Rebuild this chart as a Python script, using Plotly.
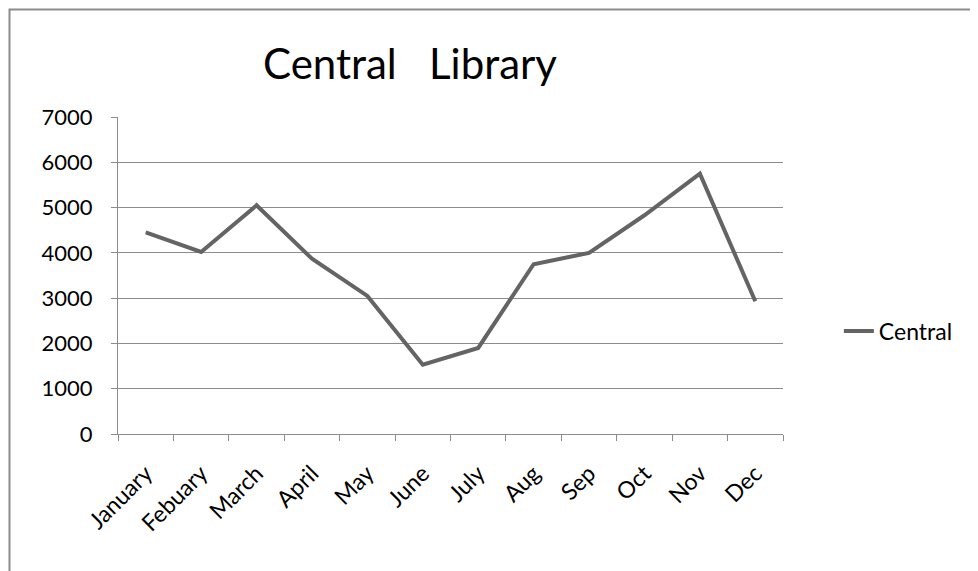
import plotly.graph_objects as go

months = ["January", "Febuary", "March", "April", "May", "June", "July",
          "Aug", "Sep", "Oct", "Nov", "Dec"]
central = [4450, 4020, 5050, 3870, 3050, 1530, 1900, 3750, 4000, 4830, 5750, 2930]
y_ticks = [0, 1000, 2000, 3000, 4000, 5000, 6000, 7000]

FONT = "Lato"
# the page body has an 8px margin, so the figure is made 8px smaller and shifted
W, H = 970, 563
L, T = 110, 109
PW, PH = 665, 317

fig = go.Figure()
fig.add_trace(go.Scatter(
    x=months, y=central, mode="lines", name="Central",
    line=dict(color="#646464", width=4),
))

fig.update_layout(
    width=W, height=H,
    margin=dict(l=L, r=W - L - PW, t=T, b=H - T - PH, autoexpand=False),
    paper_bgcolor="white", plot_bgcolor="white",
    font=dict(family=FONT, color="#000000", size=20),
    title=dict(text="Central\u00a0\u00a0\u00a0Library", x=(410 - 8) / W, xanchor="center",
               y=1 - (64 - 8) / H, yanchor="middle",
               font=dict(family=FONT, size=42, color="#000000")),
    showlegend=True,
    legend=dict(x=1.084, xanchor="left", y=(434 - 331) / PH, yanchor="middle",
                font=dict(family=FONT, size=23), bgcolor="rgba(0,0,0,0)",
                itemwidth=30),
    xaxis=dict(type="category", range=[-0.5, 11.5], tickson="boundaries",
               ticks="outside", ticklen=6,
               tickcolor="#8c8c8c", showline=True, linecolor="#8c8c8c", linewidth=1,
               showgrid=False, tickangle=-45, tickfont=dict(size=23), zeroline=False,
               ticklabelstandoff=16, automargin=False),
    yaxis=dict(range=[0, 7000], tickvals=y_ticks, ticks="outside", ticklen=6,
               tickcolor="#8c8c8c", showline=True, linecolor="#8c8c8c", linewidth=1,
               showgrid=True, gridcolor="#8c8c8c", gridwidth=1, zeroline=False,
               ticklabelstandoff=14, tickfont=dict(size=22), automargin=False),
    shapes=[dict(type="rect", xref="paper", yref="paper",
                 x0=(1.5 - L) / PW, x1=1.6, y0=-0.8, y1=1 + (T - 1.5) / PH,
                 line=dict(color="#8c8c8c", width=2), fillcolor="rgba(0,0,0,0)",
                 layer="below")],
)

fig.write_html("out.html")
